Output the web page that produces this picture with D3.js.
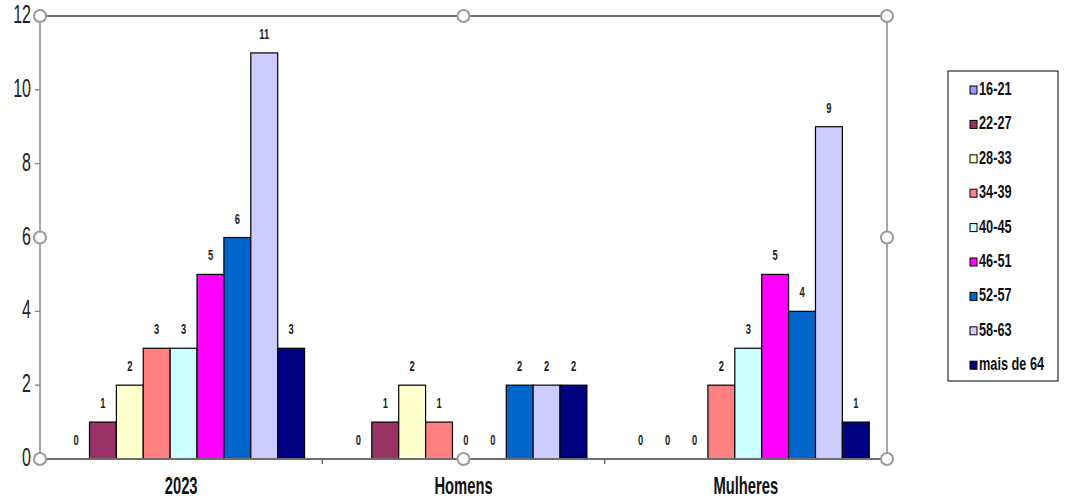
<!DOCTYPE html>
<html><head><meta charset="utf-8">
<script src="https://cdn.jsdelivr.net/npm/d3@7"></script>
<style>
body{margin:0;background:#fff;}
text{font-family:"Liberation Sans Narrow","Arial Narrow","Liberation Sans",sans-serif;}
</style></head>
<body><svg id="c" width="1069" height="499"></svg>
<script>
const categories = ["2023","Homens","Mulheres"];
const seriesNames = ["16-21","22-27","28-33","34-39","40-45","46-51","52-57","58-63","mais de 64"];
const seriesColors = ["#9999FF","#993366","#FFFFCC","#FF8080","#CCFFFF","#FF00FF","#0066CC","#CCCCFF","#000080"];
const s16_21 = [0,0,0];
const s22_27 = [1,1,0];
const s28_33 = [2,2,0];
const s34_39 = [3,1,2];
const s40_45 = [3,0,3];
const s46_51 = [5,0,5];
const s52_57 = [6,2,4];
const s58_63 = [11,2,9];
const s64 = [3,2,1];
const yTicks = [0,2,4,6,8,10,12];

const seriesValues = [s16_21,s22_27,s28_33,s34_39,s40_45,s46_51,s52_57,s58_63,s64];
const svg = d3.select("#c");
const L=40,R=887,T=16,B=459;
const x0 = d3.scaleBand().domain(categories).range([L,R]).padding(0);
const x1 = d3.scaleBand().domain(seriesNames).range([0,x0.bandwidth()]).paddingInner(0).paddingOuter(0.75).align(0.56);
const y = d3.scaleLinear().domain([0,12]).range([B,T]);

// frame
svg.append("line").attr("x1",L).attr("x2",R).attr("y1",T).attr("y2",T).attr("stroke","#6e6e6e").attr("stroke-width",2);
svg.append("line").attr("x1",R).attr("x2",R).attr("y1",T).attr("y2",B).attr("stroke","#8a8a8a").attr("stroke-width",1.5);

// bars
const g = svg.append("g");
categories.forEach((c,ci)=>{
  seriesNames.forEach((s,si)=>{
    const v = seriesValues[si][ci];
    const bx = x0(c)+x1(s);
    if(v>0){
      g.append("rect").attr("x",bx).attr("y",y(v)).attr("width",x1.bandwidth()).attr("height",y(0)-y(v))
        .attr("fill",seriesColors[si]).attr("stroke","#000").attr("stroke-width",1.2);
    }
    g.append("text").attr("transform",`translate(${bx+x1.bandwidth()/2},${y(v)-14}) scale(0.85,1.3)`)
      .attr("text-anchor","middle").attr("font-size",11).attr("font-weight","bold").attr("fill","#222").text(v);
  });
});

// axes
svg.append("line").attr("x1",L).attr("x2",L).attr("y1",T).attr("y2",B).attr("stroke","#8a8a8a").attr("stroke-width",1.5);
svg.append("line").attr("x1",L).attr("x2",R).attr("y1",B).attr("y2",B).attr("stroke","#6e6e6e").attr("stroke-width",2);
yTicks.forEach(t=>{
  svg.append("line").attr("x1",L-5).attr("x2",L).attr("y1",y(t)).attr("y2",y(t)).attr("stroke","#8a8a8a").attr("stroke-width",1.5);
  svg.append("text").attr("transform",`translate(${L-9},${y(t)+7}) scale(0.8,1.3)`)
    .attr("text-anchor","end").attr("font-size",20).attr("fill","#222").text(t);
});
[x0("Homens"), x0("Mulheres")].forEach(xx=>{
  svg.append("line").attr("x1",xx).attr("x2",xx).attr("y1",B).attr("y2",B+5).attr("stroke","#6e6e6e").attr("stroke-width",1.5);
});
categories.forEach(c=>{
  svg.append("text").attr("transform",`translate(${x0(c)+x0.bandwidth()/2},${B+35}) scale(0.82,1.3)`)
    .attr("text-anchor","middle").attr("font-size",18).attr("font-weight","bold").attr("fill","#111").text(c);
});

// selection handles
const hx=[L,(L+R)/2,R], hy=[y(12),y(6),y(0)];
hx.forEach((xx,i)=>hy.forEach((yy,j)=>{
  if(i===1&&j===1) return;
  svg.append("circle").attr("cx",xx).attr("cy",yy).attr("r",6).attr("fill","#fff").attr("stroke","#9a9a9a").attr("stroke-width",2);
}));

// legend
const lg = svg.append("g");
lg.append("rect").attr("x",948).attr("y",71).attr("width",110).attr("height",310).attr("fill","#fff").attr("stroke","#000").attr("stroke-width",1);
seriesNames.forEach((s,i)=>{
  const yy = 90 + i*34.4;
  lg.append("rect").attr("x",970).attr("y",yy-4).attr("width",7).attr("height",8).attr("fill",seriesColors[i]).attr("stroke","#000").attr("stroke-width",1);
  lg.append("text").attr("transform",`translate(979,${yy+5}) scale(0.85,1.2)`).attr("font-size",15).attr("font-weight","bold").attr("fill","#111").text(s);
});
</script></body></html>
